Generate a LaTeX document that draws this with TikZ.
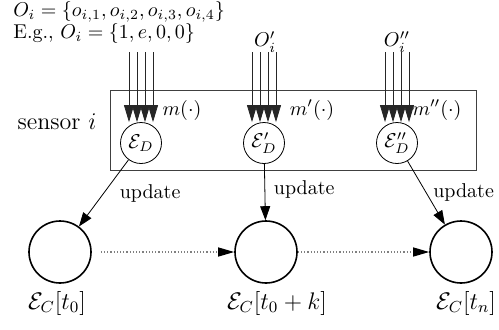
\documentclass[tikz,border=0pt]{standalone}
\usetikzlibrary{arrows.meta,positioning}

\tikzset{
	est/.style = {circle, draw, inner sep = 1pt, minimum size = 20.5pt},
	cen/.style = {circle, draw, line width = 0.8pt, minimum size = 31pt},
	obs/.style = {-{Triangle[length = 8.5pt, width = 5pt]}, line width = 0.4pt, black!85},
	upd/.style = {-{Triangle[length = 7pt, width = 5pt]}, line width = 0.4pt},
	flow/.style = {-{Triangle[length = 8pt, width = 4.5pt, black]}, densely dotted, gray, line width = 0.6pt}
}

\begin{document}
\begin{tikzpicture} [x = 0.5pt, y = 0.5pt]
	\useasboundingbox (0,0) rectangle (499,329);
	% observations
	\node [right, inner sep = 1pt] (obs) at (11,317) {$O_i = \{o_{i,1}, o_{i,2}, o_{i,3}, o_{i,4}\}$};
	\node [right, inner sep = 1pt] (eg) at (11,296) {E.g., $O_i = \{1, e, 0, 0\}$};
	\node (obsb) at (265,287) {$O'_i$};
	\node (obsc) at (397,287) {$O''_i$};
	% sensor box
	\draw [black!75] (110,239) rectangle (476,159);
	\node [font = \large] (sensor) at (57,207) {sensor $i$};
	\node [est] (da) at (141,186) {$\mathcal{E}_D$};
	\node [est] (db) at (264,186) {$\mathcal{E}'_D$};
	\node [est] (dc) at (397,186) {$\mathcal{E}''_D$};
	\foreach \n in {da,db,dc}
		\foreach \dx in {-12,-4,4,12}
			\draw [obs] ([xshift = \dx*0.5pt, yshift = 35pt]\n.north) -- ([xshift = \dx*0.5pt]\n.north);
	\node (ma) at (182,219) {$m(\cdot)$};
	\node (mb) at (312,219) {$m'(\cdot)$};
	\node (mc) at (437,219) {$m''(\cdot)$};
	% estimates over time
	\node [cen] (ca) at (60,77) {};
	\node [cen] (cb) at (266,77) {};
	\node [cen] (cc) at (461,77) {};
	\node [font = \large] (la) at (57,26) {$\mathcal{E}_C[t_0]$};
	\node [font = \large] (lb) at (277,26) {$\mathcal{E}_C[t_0 + k]$};
	\node [font = \large] (lc) at (466,26) {$\mathcal{E}_C[t_n]$};
	\draw [upd] (da) -- node [right = 4.5pt] {update} (ca);
	\draw [upd] (db) -- node [right = 1pt, pos = 0.45] {update} (cb);
	\draw [upd] (dc) -- node [right] {update} (cc);
	\draw [flow, shorten <= 4.5pt] (ca) -- (cb);
	\draw [flow] (cb) -- (cc);
\end{tikzpicture}
\end{document}
